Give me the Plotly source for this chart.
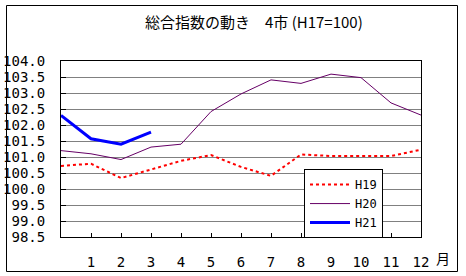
import plotly.graph_objects as go

months = list(range(0, 13))
tick_vals = list(range(1, 13))
tick_text = [str(m) for m in tick_vals]

h19 = [100.72, 100.79, 100.34, 100.60, 100.88, 101.06, 100.69, 100.41, 101.08, 101.03, 101.03, 101.03, 101.23]
h20 = [101.20, 101.10, 100.92, 101.31, 101.40, 102.42, 102.97, 103.41, 103.30, 103.59, 103.48, 102.69, 102.31]
h21 = [102.30, 101.57, 101.40, 101.78]

y_ticks = [98.5 + 0.5 * i for i in range(12)]
y_text = [f"{v:.1f}" for v in y_ticks]

mono = "DejaVu Sans Mono"
cjk = "Noto Sans CJK JP"

fig = go.Figure()
fig.add_trace(go.Scatter(x=months, y=h19, mode="lines", name="H19",
                         line=dict(color="#ff0000", width=2, dash="dot")))
fig.add_trace(go.Scatter(x=months, y=h20, mode="lines", name="H20",
                         line=dict(color="#660066", width=1)))
fig.add_trace(go.Scatter(x=months[:len(h21)], y=h21, mode="lines", name="H21",
                         line=dict(color="#0000ff", width=3)))

fig.update_layout(
    width=466, height=276,
    margin=dict(l=61, r=45, t=61, b=39),
    paper_bgcolor="white", plot_bgcolor="white",
    font=dict(family=mono, size=13, color="black"),
    showlegend=True,
    legend=dict(x=0.675, y=0.386, xanchor="left", yanchor="top",
                bgcolor="white", bordercolor="black", borderwidth=1,
                font=dict(family=mono, size=12), tracegroupgap=0,
                itemwidth=40),
    xaxis=dict(range=[0, 12], tickvals=tick_vals, ticktext=tick_text,
               showgrid=False, zeroline=False, showline=True, linecolor="black",
               linewidth=1, mirror=True, ticks="inside", ticklen=4,
               tickcolor="black", ticklabelstandoff=12, fixedrange=True,
               automargin=False, tickfont=dict(family=mono, size=14)),
    yaxis=dict(range=[98.5, 104.0], tickvals=y_ticks, ticktext=y_text,
               showgrid=True, gridcolor="#808080", gridwidth=1, zeroline=False,
               showline=True, linecolor="black", linewidth=1, mirror=True,
               ticks="inside", ticklen=5, tickcolor="black",
               ticklabelstandoff=12, fixedrange=True,
               automargin=False, tickfont=dict(family=mono, size=14)),
    annotations=[
        dict(text="総合指数の動き　4市 (H17=100)", xref="paper", yref="paper",
             x=(254 - 61) / 360, y=(237 - 22) / 176, xanchor="center", yanchor="middle",
             showarrow=False, font=dict(family=cjk, size=15, color="black")),
        dict(text="月", xref="paper", yref="paper",
             x=(443 - 61) / 360, y=(237 - 258) / 176, xanchor="center", yanchor="middle",
             showarrow=False, font=dict(family=cjk, size=14, color="black")),
    ],
    shapes=[
        dict(type="rect", xref="paper", yref="paper",
             x0=(6.5 - 61) / 360, x1=(457.5 - 61) / 360,
             y0=(237 - 271.5) / 176, y1=(237 - 5.5) / 176,
             line=dict(color="black", width=1), fillcolor="rgba(0,0,0,0)", layer="below"),
    ],
)

fig.write_html("out.html")
